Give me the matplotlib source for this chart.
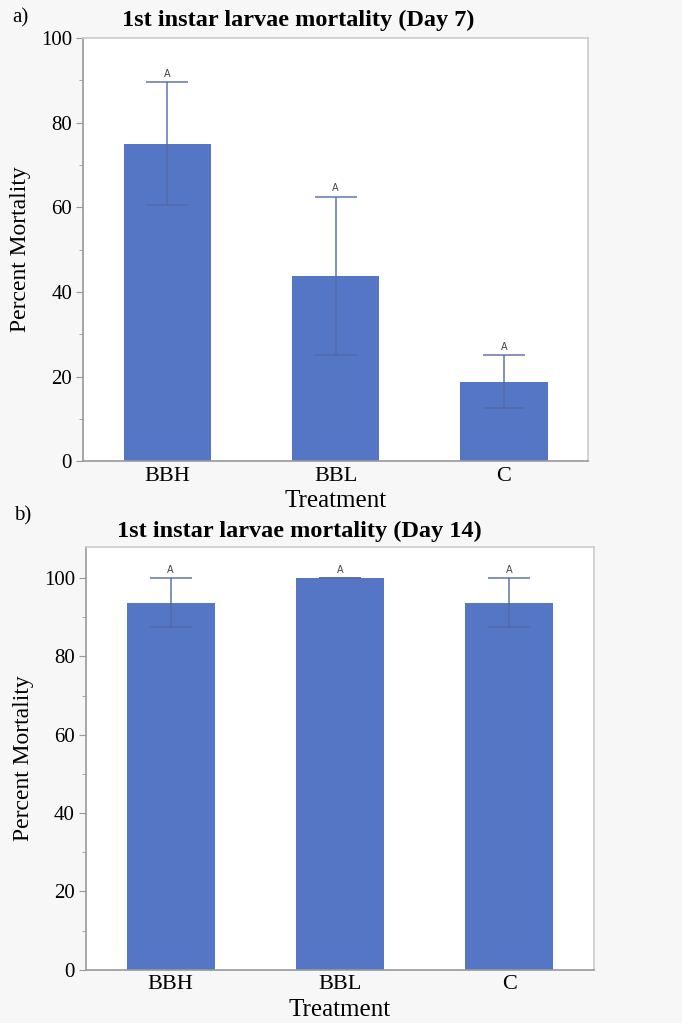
import matplotlib.pyplot as plt
from matplotlib.ticker import MultipleLocator

treatments = ['BBH', 'BBL', 'C']

day7_mean = [75.0, 43.75, 18.75]
day7_low = [60.5, 25.0, 12.5]
day7_high = [89.5, 62.5, 25.0]

day14_mean = [93.75, 100.0, 93.75]
day14_low = [87.5, 100.0, 87.5]
day14_high = [100.0, 100.0, 100.0]

letters7 = ['A', 'A', 'A']
letters14 = ['A', 'A', 'A']

bar_color = '#5576c4'
err_color = '#5468a8'
bg = '#f7f7f7'

plt.rcParams['font.family'] = ['Liberation Serif', 'DejaVu Serif']

fig = plt.figure(figsize=(6.82, 10.23), dpi=100, facecolor=bg)


def panel(ax, means, lows, highs, letters, ymax):
    x = list(range(len(treatments)))
    ax.bar(x, means, width=0.52, color=bar_color, zorder=2)
    yerr = [[m - l for m, l in zip(means, lows)], [h - m for m, h in zip(means, highs)]]
    ax.errorbar(x, means, yerr=yerr, fmt='none', ecolor=err_color, elinewidth=1.2,
                capsize=15, capthick=1.2, alpha=0.85, zorder=3)
    for xi, h, t in zip(x, highs, letters):
        ax.text(xi, h + ymax * 0.008, t, ha='center', va='bottom', fontsize=7,
                family='DejaVu Sans', color='#444444', zorder=4)
    ax.set_xlim(-0.5, 2.5)
    ax.set_ylim(0, ymax)
    ax.set_xticks(x)
    ax.set_xticklabels(treatments, fontsize=16)
    ax.yaxis.set_major_locator(MultipleLocator(20))
    ax.yaxis.set_minor_locator(MultipleLocator(10))
    ax.tick_params(axis='y', labelsize=15, length=5, color='#999999', pad=3)
    ax.tick_params(axis='y', which='minor', length=3, color='#999999')
    ax.tick_params(axis='x', length=0, pad=4)
    for s in ax.spines.values():
        s.set_color('#cccccc')
        s.set_linewidth(1.2)
    ax.spines['left'].set_color('#999999')
    ax.spines['bottom'].set_color('#999999')
    ax.set_facecolor('white')
    ax.set_xlabel('Treatment', fontsize=18, labelpad=3)
    ax.set_ylabel('Percent Mortality', fontsize=17, labelpad=7)


ax1 = fig.add_axes([0.122, 0.549, 0.740, 0.414])
panel(ax1, day7_mean, day7_low, day7_high, letters7, 100)

ax2 = fig.add_axes([0.126, 0.052, 0.745, 0.4135])
panel(ax2, day14_mean, day14_low, day14_high, letters14, 108)

fig.text(0.437, 1 - 20 / 1023, '1st instar larvae mortality (Day 7)', fontsize=17.5,
         fontweight='bold', ha='center', va='center')
fig.text(0.439, 1 - 531 / 1023, '1st instar larvae mortality (Day 14)', fontsize=17.5,
         fontweight='bold', ha='center', va='center')

fig.text(0.018, 1 - 18 / 1023, 'a)', fontsize=15, va='center')
fig.text(0.020, 1 - 516 / 1023, 'b)', fontsize=15, va='center')

fig.savefig('out.png', dpi=100, facecolor=bg)
